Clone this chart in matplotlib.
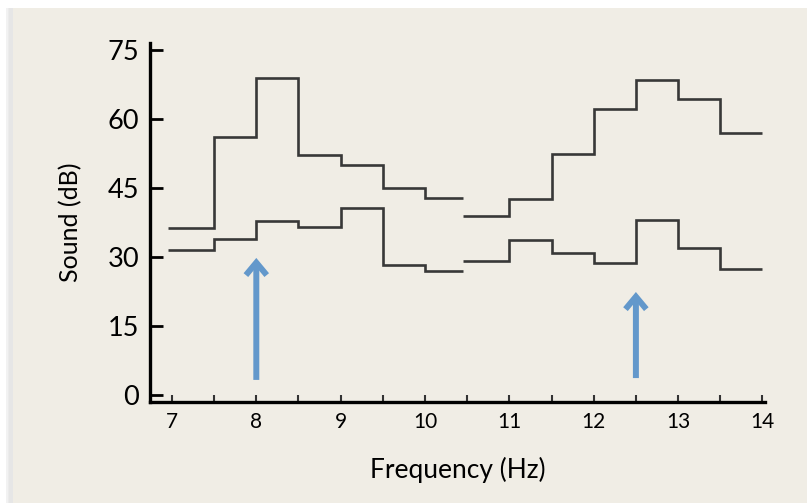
import numpy as np
import matplotlib.pyplot as plt
from matplotlib.patches import Rectangle

plt.rcParams['font.family'] = ['Lato', 'DejaVu Sans']

# bin edges (Hz) for the two halves of the recording
edges_left = [6.95, 7.5, 8.0, 8.5, 9.0, 9.5, 10.0, 10.45]
edges_right = [10.45, 11.0, 11.5, 12.0, 12.5, 13.0, 13.5, 14.0]

# upper trace (dB)
upper_left = [36.3, 56.1, 68.9, 52.2, 50.0, 45.0, 42.8]
upper_right = [38.9, 42.6, 52.4, 62.2, 68.5, 64.3, 57.0]

# lower trace (dB)
lower_left = [31.5, 33.9, 37.8, 36.5, 40.7, 28.3, 27.0]
lower_right = [29.1, 33.7, 30.9, 28.7, 38.0, 32.0, 27.4]

# arrows: x position, tail, tip
arrow_x = [8.0, 12.5]
arrow_tail = [3.3, 3.7]
arrow_tip = [29.8, 22.4]

xticks = [7, 8, 9, 10, 11, 12, 13, 14]
yticks = [0, 15, 30, 45, 60, 75]

fig = plt.figure(figsize=(8.07, 5.03), dpi=100)
fig.patch.set_facecolor('white')

# beige slide panel with a soft shadow on the left
for i, a in enumerate([0.05, 0.08, 0.12]):
    fig.patches.append(Rectangle((0.0115 - i * 0.002, 0.0), 0.99, 0.984,
                                 transform=fig.transFigure, facecolor='#9a9a9a',
                                 alpha=a, edgecolor='none', zorder=-3))
fig.patches.append(Rectangle((0.0155, 0.0), 0.99, 0.984, transform=fig.transFigure,
                             facecolor='#f0ede5', edgecolor='none', zorder=-2))

ax = fig.add_axes([0.1859, 0.2008, 0.762, 0.7137])
ax.set_facecolor('none')

line_kw = dict(color='#383838', lw=1.9, baseline=None)
ax.stairs(upper_left, edges_left, **line_kw)
ax.stairs(upper_right, edges_right, **line_kw)
ax.stairs(lower_left, edges_left, **line_kw)
ax.stairs(lower_right, edges_right, **line_kw)

for x, y0, y1 in zip(arrow_x, arrow_tail, arrow_tip):
    ax.annotate('', xy=(x, y1), xytext=(x, y0),
                arrowprops=dict(arrowstyle='->,head_length=0.9,head_width=0.75',
                                color='#6398cb', lw=4.3, shrinkA=0, shrinkB=0,
                                joinstyle='miter', capstyle='butt'))

ax.set_xlim(6.74, 14.03)
ax.set_ylim(-1.5, 76.5)

for side in ['top', 'right']:
    ax.spines[side].set_visible(False)
ax.spines['left'].set_linewidth(2.4)
ax.spines['bottom'].set_linewidth(2.4)
ax.spines['left'].set_color('black')
ax.spines['bottom'].set_color('black')

ax.set_yticks(yticks)
ax.set_xticks(xticks)
ax.set_xticks(np.arange(7.5, 14, 1.0), minor=True)
ax.tick_params(axis='y', direction='in', length=9, width=2, labelsize=19.5, pad=8)
ax.tick_params(axis='x', which='both', direction='in', length=5, width=1.5,
               labelsize=15, pad=7, color='#333333')

ax.set_xlabel('Frequency (Hz)', fontsize=19, labelpad=18)
ax.set_ylabel('Sound (dB)', fontsize=18, labelpad=18)

fig.savefig('out.png', dpi=100)
